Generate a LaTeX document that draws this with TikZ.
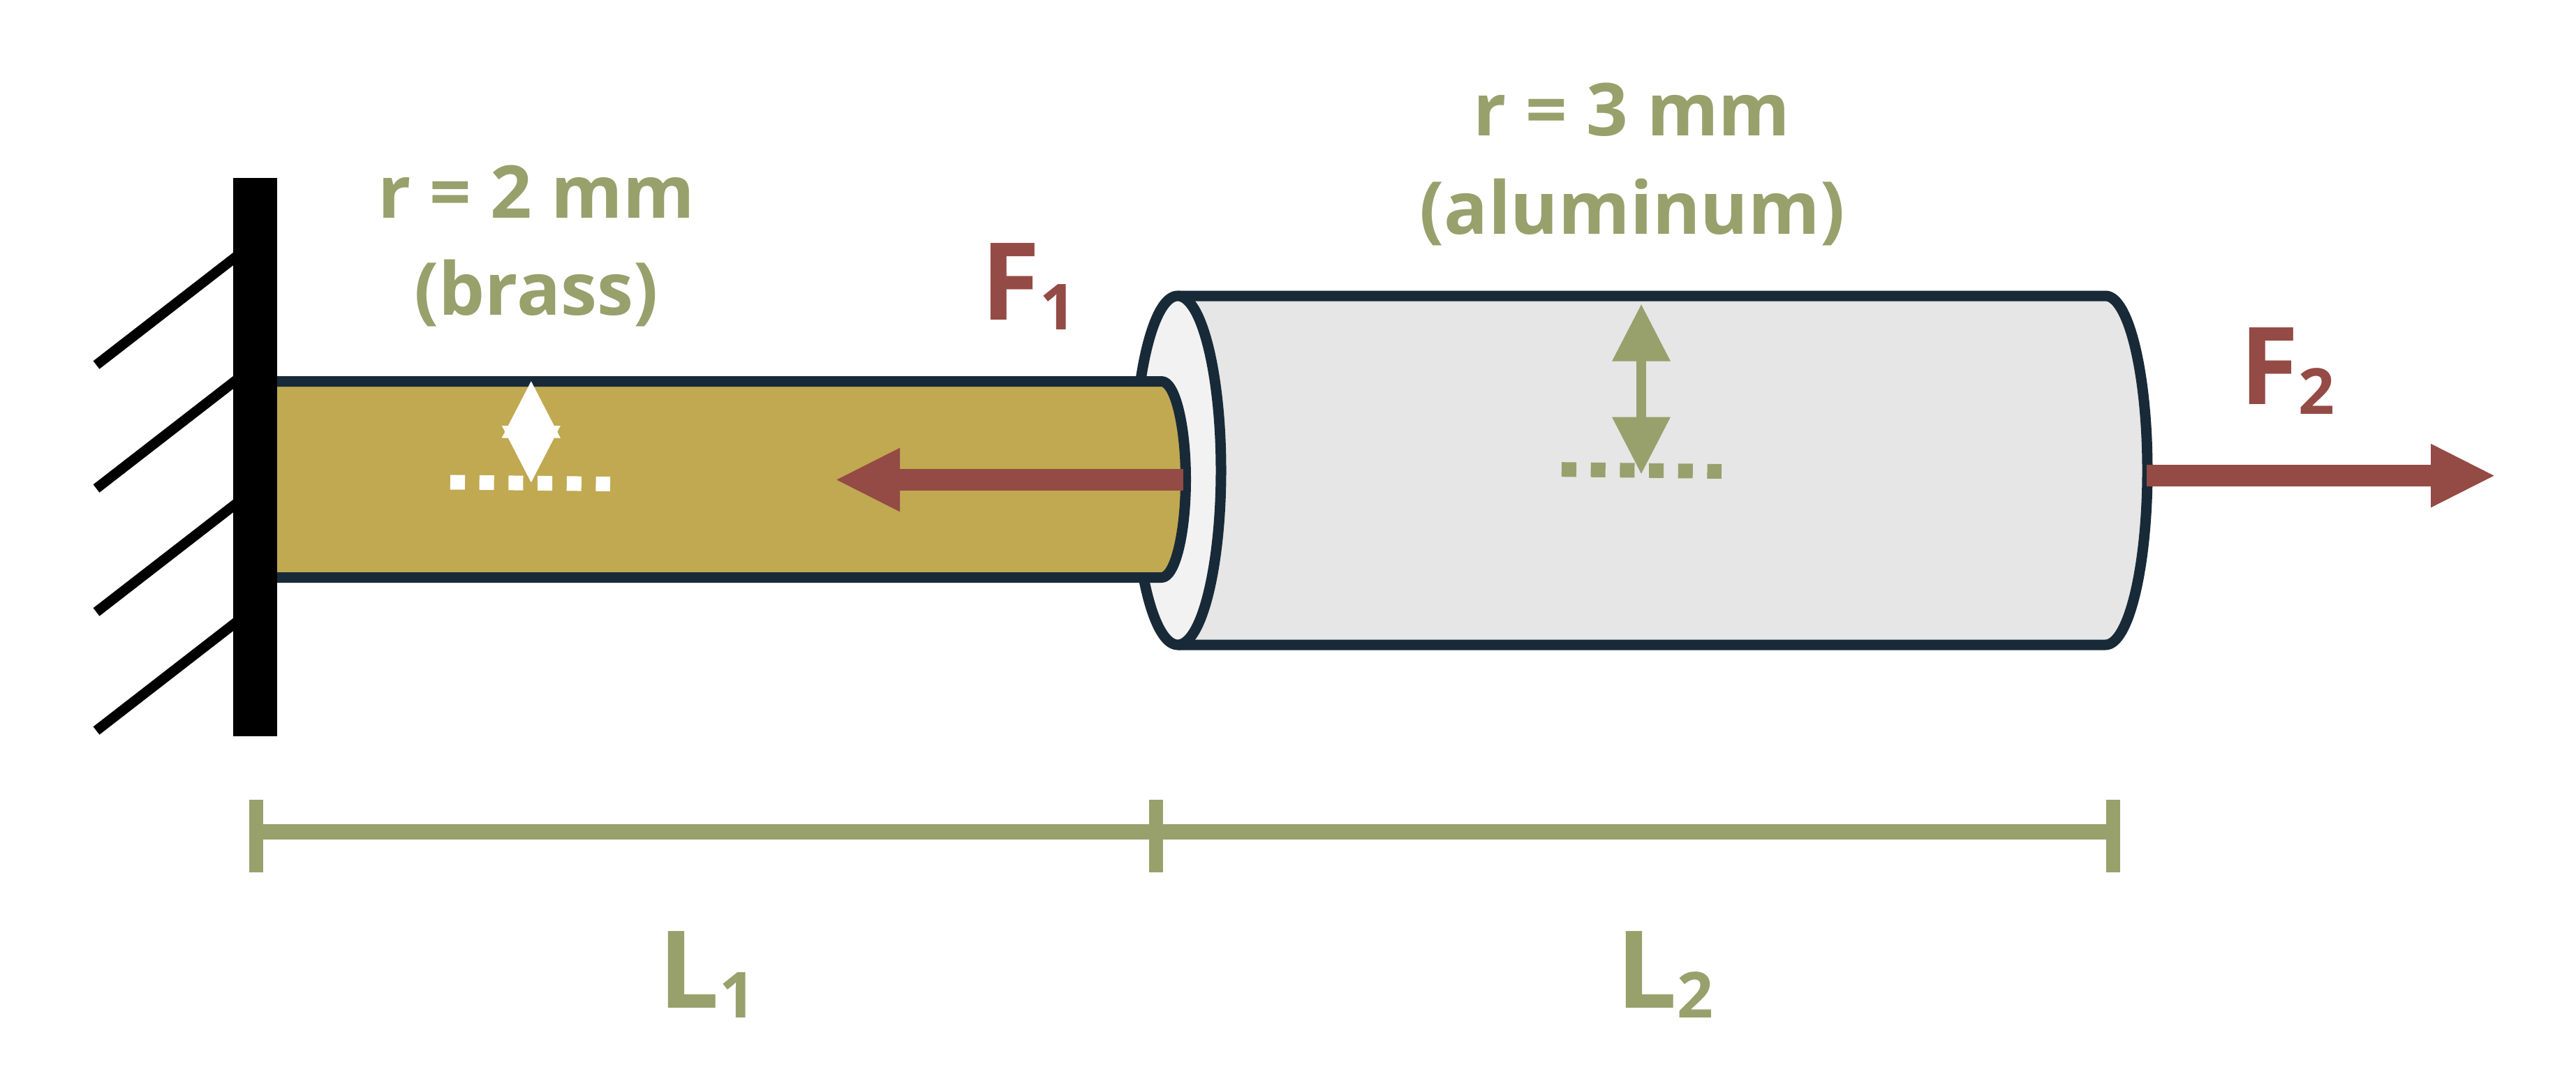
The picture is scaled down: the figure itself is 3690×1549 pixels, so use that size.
\documentclass[tikz,border=0pt]{standalone}
\usepackage{fontspec}
\setmainfont{Open Sans}
\usetikzlibrary{arrows.meta}

\definecolor{barline}{HTML}{182A38}
\definecolor{brass}{HTML}{C0A951}
\definecolor{alumbody}{HTML}{E6E6E6}
\definecolor{alumface}{HTML}{F2F2F2}
\definecolor{olive}{HTML}{98A06C}
\definecolor{force}{HTML}{944A45}

\newcommand{\smalldrop}[1]{\raisebox{-14pt}{\fontsize{91}{91}\selectfont #1}}

\tikzset{
    barstroke/.style={draw=barline, line width=15pt, line join=round},
    hatchline/.style={line width=14.5pt},
    radiuslabel/.style={text=olive, font=\fontsize{104.5}{120}\selectfont\bfseries, inner sep=0pt, anchor=base},
    biglabel/.style={font=\fontsize{154}{160}\selectfont\bfseries, inner sep=0pt, anchor=base west},
    forcearrow/.style={force, line width=31pt, -{Triangle[length=93pt, width=84pt]}},
    radiusarrow/.style={line width=14pt, {Triangle[length=82pt, width=80pt]}-{Triangle[length=82pt, width=80pt]}},
    centerdots/.style={line width=21pt, dash pattern=on 21pt off 20.7pt},
    dimline/.style={olive, line width=21.6pt},
    dimtick/.style={olive, line width=20pt}
}

\begin{document}
\begin{tikzpicture}[x=1pt, y=-1pt]
    \useasboundingbox (0,0) rectangle (3690,1549);

    % Hachuras da parede
    \foreach \ystart/\yend in {371/523, 548/700, 725/877, 895/1047}
        \draw[hatchline] (340,\ystart-4.6) -- (138,\yend);

    % Cilindro de aluminio
    \draw[barstroke, fill=alumbody] (1687,424) -- (3016,424)
        arc[start angle=-90, end angle=90, x radius=60, y radius=250] -- (1687,924);
    \draw[barstroke, fill=alumface] (1687,674) ellipse[x radius=62, y radius=250];

    % Barra de latao
    \draw[barstroke, fill=brass] (380,546.5) -- (1664,546.5)
        arc[start angle=-90, end angle=90, x radius=34.5, y radius=140.5] -- (380,827.5);

    % Parede
    \fill[black] (334,254.5) rectangle (397,1055);

    % Raios
    \draw[radiusarrow, white] (760.8,545.5) -- (760.8,692);
    \draw[centerdots, white] (645,691) -- (874,693.5);
    \draw[radiusarrow, olive] (2351,435.7) -- (2351,679.5);
    \draw[centerdots, olive] (2237,672.7) -- (2466,675.5);

    % Forcas
    \draw[forcearrow] (1695,687.5) -- (1196,687.5);
    \draw[forcearrow] (3075,681.6) -- (3575,681.6);

    % Cotas
    \coordinate (dimstart) at (367,1191.7);
    \coordinate (dimmid) at (1655.6,1191.7);
    \coordinate (dimend) at (3027,1191.7);
    \draw[dimline] (dimstart) -- (dimend);
    \foreach \dimname in {dimstart, dimmid, dimend}
        \draw[dimtick] ([yshift=46pt]\dimname) -- ([yshift=-58pt]\dimname);

    % Textos
    \node[radiuslabel] (brassradius) at (768,312) {r = 2 mm};
    \node[radiuslabel] (brassname) at (768,451) {(brass)};
    \node[radiuslabel] (alumradius) at (2337.5,194.5) {r = 3 mm};
    \node[radiuslabel] (alumname) at (2338,335) {(aluminum)};
    \node[biglabel, text=force] (forceone) at (1405,458.5) {F\smalldrop{1}};
    \node[biglabel, text=force] (forcetwo) at (3208,579) {F\smalldrop{2}};
    \node[biglabel, text=olive] (lengthone) at (943,1444) {L\smalldrop{1}};
    \node[biglabel, text=olive] (lengthtwo) at (2315,1444) {L\smalldrop{2}};
\end{tikzpicture}
\end{document}
